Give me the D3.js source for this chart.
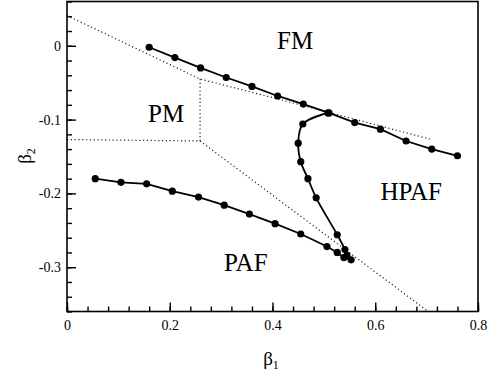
<!DOCTYPE html>
<html>
<head>
<meta charset="utf-8">
<script src="https://cdn.jsdelivr.net/npm/d3@7"></script>
<style>
  body { margin: 0; background: #fff; }
  svg { display: block; font-family: "Liberation Serif", "DejaVu Serif", serif; }
</style>
</head>
<body>
<svg></svg>
<script>
// FM / HPAF boundary (upper curve)
let fmB1 = [0.16, 0.21, 0.26, 0.31, 0.36, 0.41, 0.46, 0.51, 0.56, 0.61, 0.66, 0.71, 0.76]
let fmB2 = [-0.002, -0.016, -0.030, -0.043, -0.055, -0.068, -0.079, -0.091, -0.104, -0.113, -0.129, -0.140, -0.149]

// PAF boundary (lower curve)
let pafB1 = [0.055, 0.105, 0.155, 0.205, 0.256, 0.306, 0.355, 0.405, 0.455, 0.506, 0.526, 0.539, 0.553]
let pafB2 = [-0.180, -0.185, -0.187, -0.197, -0.205, -0.216, -0.228, -0.241, -0.255, -0.272, -0.280, -0.287, -0.290]

// HPAF loop curve
let hpB1 = [0.508, 0.459, 0.450, 0.455, 0.469, 0.485, 0.526, 0.541, 0.545]
let hpB2 = [-0.091, -0.106, -0.132, -0.157, -0.180, -0.206, -0.256, -0.276, -0.284]

// dotted phase boundaries
let dotUpperB1 = [0, 0.259, 0.399, 0.710]
let dotUpperB2 = [0.041, -0.045, -0.070, -0.127]
let dotVertB1 = [0.259, 0.259]
let dotVertB2 = [-0.045, -0.129]
let dotHorzB1 = [0, 0.259]
let dotHorzB2 = [-0.127, -0.129]
let dotDiagB1 = [0.259, 0.703]
let dotDiagB2 = [-0.129, -0.36]

let xTicks = [0, 0.2, 0.4, 0.6, 0.8]
let xTickLabels = ["0", "0.2", "0.4", "0.6", "0.8"]
let yTicks = [0, -0.1, -0.2, -0.3]
let yTickLabels = ["0", "-0.1", "-0.2", "-0.3"]

let regionNames = ["FM", "PM", "HPAF", "PAF"]
let regionB1 = [0.444, 0.193, 0.670, 0.348]
let regionB2 = [-0.004, -0.103, -0.209, -0.305]

let width = 493
let height = 379

let svg = d3.select('svg')
    .attr('width', width)
    .attr('height', height)

let xScale = d3.scaleLinear().domain([0, 0.8]).range([67, 478])
let yScale = d3.scaleLinear().domain([-0.36, 0.06]).range([311.5, 1.5])

let zip = (a, b) => a.map((v, i) => [v, b[i]])

let line = d3.line()
    .x(d => xScale(d[0]))
    .y(d => yScale(d[1]))

// dotted boundaries
let dotted = [
    zip(dotUpperB1, dotUpperB2),
    zip(dotVertB1, dotVertB2),
    zip(dotHorzB1, dotHorzB2),
    zip(dotDiagB1, dotDiagB2)
]
svg.selectAll('path.dot')
    .data(dotted)
    .enter()
    .append('path')
    .attr('class', 'dot')
    .attr('d', line)
    .attr('fill', 'none')
    .attr('stroke', '#222')
    .attr('stroke-width', 1.2)
    .attr('stroke-dasharray', '1.2,2.6')

// axes: minor ticks, then major with labels
let minorX = d3.range(0, 0.8001, 0.04)
let minorY = d3.range(-0.36, 0.0601, 0.02)

svg.append('g')
    .attr('transform', 'translate(0,' + yScale(-0.36) + ')')
    .call(d3.axisBottom(xScale).tickValues(minorX).tickSize(-5).tickFormat(''))
svg.append('g')
    .attr('id', 'x-axis')
    .attr('transform', 'translate(0,' + yScale(-0.36) + ')')
    .call(d3.axisBottom(xScale).tickValues(xTicks).tickSize(-9).tickPadding(9)
        .tickFormat((d, i) => xTickLabels[i]))

svg.append('g')
    .attr('transform', 'translate(' + xScale(0) + ',0)')
    .call(d3.axisLeft(yScale).tickValues(minorY).tickSize(-5).tickFormat(''))
svg.append('g')
    .attr('id', 'y-axis')
    .attr('transform', 'translate(' + xScale(0) + ',0)')
    .call(d3.axisLeft(yScale).tickValues(yTicks).tickSize(-9).tickPadding(6)
        .tickFormat((d, i) => yTickLabels[i]))

svg.selectAll('.domain').remove()
svg.selectAll('.tick line').attr('stroke', '#000').attr('stroke-width', 1.4)
svg.selectAll('.tick text')
    .attr('font-family', '"Liberation Serif", serif')
    .attr('font-size', 14)
    .attr('fill', '#000')

// frame
svg.append('rect')
    .attr('x', xScale(0))
    .attr('y', yScale(0.06))
    .attr('width', xScale(0.8) - xScale(0))
    .attr('height', yScale(-0.36) - yScale(0.06))
    .attr('fill', 'none')
    .attr('stroke', '#000')
    .attr('stroke-width', 1.6)

// solid curves with markers
let curves = [
    { pts: zip(fmB1, fmB2), curve: d3.curveLinear },
    { pts: zip(pafB1, pafB2), curve: d3.curveLinear },
    { pts: zip(hpB1, hpB2), curve: d3.curveCatmullRom }
]
curves.forEach(c => {
    svg.append('path')
        .attr('d', line.curve(c.curve)(c.pts))
        .attr('fill', 'none')
        .attr('stroke', '#000')
        .attr('stroke-width', 1.8)
    svg.append('g')
        .selectAll('circle')
        .data(c.pts)
        .enter()
        .append('circle')
        .attr('cx', d => xScale(d[0]))
        .attr('cy', d => yScale(d[1]))
        .attr('r', 3.6)
        .attr('fill', '#000')
})

// region labels
svg.selectAll('text.region')
    .data(regionNames)
    .enter()
    .append('text')
    .attr('class', 'region')
    .attr('x', (d, i) => xScale(regionB1[i]))
    .attr('y', (d, i) => yScale(regionB2[i]))
    .attr('text-anchor', 'middle')
    .attr('font-size', 25)
    .text(d => d)

// axis titles
let xt = svg.append('text')
    .attr('x', 271)
    .attr('y', 365)
    .attr('text-anchor', 'middle')
    .attr('font-size', 19)
xt.append('tspan').text('β')
xt.append('tspan').attr('font-size', 12).attr('dy', 4).text('1')

let yt = svg.append('text')
    .attr('transform', 'translate(31,156) rotate(-90)')
    .attr('text-anchor', 'middle')
    .attr('font-size', 19)
yt.append('tspan').text('β')
yt.append('tspan').attr('font-size', 12).attr('dy', 4).text('2')
</script>
</body>
</html>
